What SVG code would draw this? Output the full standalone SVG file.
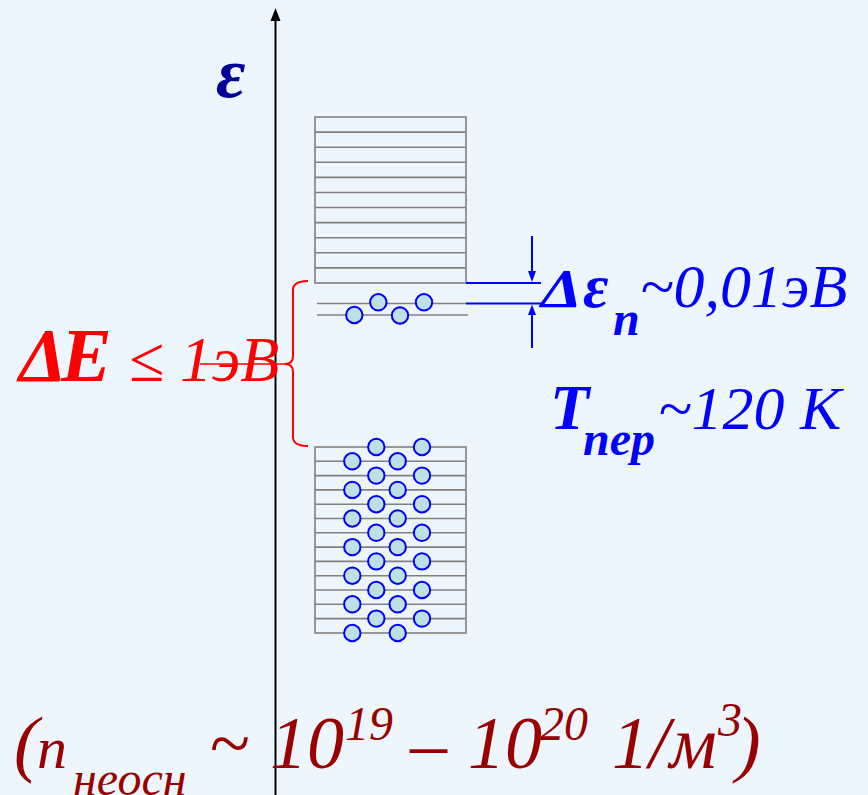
<svg xmlns="http://www.w3.org/2000/svg" width="868" height="795" viewBox="0 0 868 795">
<defs>
<style>
.band{fill:none;stroke:#808080;stroke-width:1.6}
.lvl{stroke:#808080;stroke-width:1.6}
.el{fill:#BDE0E3;stroke:#0000FF;stroke-width:2}
.bl{stroke:#0000FF;stroke-width:2;fill:none}
.t{font-family:"Liberation Serif","Times New Roman",serif;font-style:italic}
.b{font-weight:bold}
.blue{fill:#0000FF}
.red{fill:#FF0000}
.dred{fill:#990000}
</style>
</defs>
<rect x="0" y="0" width="868" height="795" fill="#EEF6FD"/>

<g id="axis">
<line x1="275.5" y1="20" x2="275.5" y2="795" stroke="#000" stroke-width="2"/>
<polygon points="275.5,8 270.5,21 280.5,21" fill="#000"/>
<text class="t b" x="216" y="97" font-size="72" fill="#000099">ε</text>
</g>

<g id="conduction-band">
<rect class="band" x="315" y="117" width="151" height="166"/>
<line class="lvl" x1="315" y1="132.1" x2="466" y2="132.1"/>
<line class="lvl" x1="315" y1="147.2" x2="466" y2="147.2"/>
<line class="lvl" x1="315" y1="162.3" x2="466" y2="162.3"/>
<line class="lvl" x1="315" y1="177.4" x2="466" y2="177.4"/>
<line class="lvl" x1="315" y1="192.5" x2="466" y2="192.5"/>
<line class="lvl" x1="315" y1="207.5" x2="466" y2="207.5"/>
<line class="lvl" x1="315" y1="222.6" x2="466" y2="222.6"/>
<line class="lvl" x1="315" y1="237.7" x2="466" y2="237.7"/>
<line class="lvl" x1="315" y1="252.8" x2="466" y2="252.8"/>
<line class="lvl" x1="315" y1="267.9" x2="466" y2="267.9"/>
</g>

<g id="donor-levels">
<line class="lvl" x1="317" y1="303.5" x2="467" y2="303.5"/>
<line class="lvl" x1="317" y1="315" x2="468" y2="315"/>
<circle class="el" cx="378.3" cy="302.3" r="8.2"/>
<circle class="el" cx="424" cy="302.3" r="8.2"/>
<circle class="el" cx="354.3" cy="315" r="8.2"/>
<circle class="el" cx="400" cy="315.5" r="8.2"/>
</g>

<g id="valence-band">
<rect class="band" x="315" y="447" width="151" height="186"/>
<line class="lvl" x1="315" y1="461.3" x2="466" y2="461.3"/>
<line class="lvl" x1="315" y1="475.6" x2="466" y2="475.6"/>
<line class="lvl" x1="315" y1="489.9" x2="466" y2="489.9"/>
<line class="lvl" x1="315" y1="504.2" x2="466" y2="504.2"/>
<line class="lvl" x1="315" y1="518.5" x2="466" y2="518.5"/>
<line class="lvl" x1="315" y1="532.8" x2="466" y2="532.8"/>
<line class="lvl" x1="315" y1="547.1" x2="466" y2="547.1"/>
<line class="lvl" x1="315" y1="561.4" x2="466" y2="561.4"/>
<line class="lvl" x1="315" y1="575.7" x2="466" y2="575.7"/>
<line class="lvl" x1="315" y1="590" x2="466" y2="590"/>
<line class="lvl" x1="315" y1="604.3" x2="466" y2="604.3"/>
<line class="lvl" x1="315" y1="618.6" x2="466" y2="618.6"/>
<g>
<circle class="el" cx="376.3" cy="447" r="8.2"/><circle class="el" cx="422" cy="447" r="8.2"/>
<circle class="el" cx="376.3" cy="475.6" r="8.2"/><circle class="el" cx="422" cy="475.6" r="8.2"/>
<circle class="el" cx="376.3" cy="504.2" r="8.2"/><circle class="el" cx="422" cy="504.2" r="8.2"/>
<circle class="el" cx="376.3" cy="532.8" r="8.2"/><circle class="el" cx="422" cy="532.8" r="8.2"/>
<circle class="el" cx="376.3" cy="561.4" r="8.2"/><circle class="el" cx="422" cy="561.4" r="8.2"/>
<circle class="el" cx="376.3" cy="590" r="8.2"/><circle class="el" cx="422" cy="590" r="8.2"/>
<circle class="el" cx="376.3" cy="618.6" r="8.2"/><circle class="el" cx="422" cy="618.6" r="8.2"/>
<circle class="el" cx="352.3" cy="461.3" r="8.2"/><circle class="el" cx="397.7" cy="461.3" r="8.2"/>
<circle class="el" cx="352.3" cy="489.9" r="8.2"/><circle class="el" cx="397.7" cy="489.9" r="8.2"/>
<circle class="el" cx="352.3" cy="518.5" r="8.2"/><circle class="el" cx="397.7" cy="518.5" r="8.2"/>
<circle class="el" cx="352.3" cy="547.1" r="8.2"/><circle class="el" cx="397.7" cy="547.1" r="8.2"/>
<circle class="el" cx="352.3" cy="575.7" r="8.2"/><circle class="el" cx="397.7" cy="575.7" r="8.2"/>
<circle class="el" cx="352.3" cy="604.3" r="8.2"/><circle class="el" cx="397.7" cy="604.3" r="8.2"/>
<circle class="el" cx="352.3" cy="633" r="8.2"/><circle class="el" cx="397.7" cy="633" r="8.2"/>
</g>
</g>

<g id="connectors">
<line class="bl" x1="466" y1="283" x2="541" y2="283"/>
<line class="bl" x1="466" y1="303.5" x2="541" y2="303.5"/>
<line class="bl" x1="532" y1="236" x2="532" y2="273"/>
<polygon points="532,282 528,271 536,271" fill="#0000FF"/>
<line class="bl" x1="532" y1="313" x2="532" y2="348"/>
<polygon points="532,304.5 528,315 536,315" fill="#0000FF"/>
<path d="M308,281 Q293,281 293,290 L293,356 Q293,364 285,364 Q293,364 293,372 L293,437 Q293,446 308,446" fill="none" stroke="#FF0000" stroke-width="2"/>
<line x1="200" y1="364" x2="290" y2="364" stroke="#FF0000" stroke-width="1.3"/>
</g>

<g id="gap-label">
<text class="t red" y="381"><tspan class="b" x="19" font-size="76">Δ</tspan><tspan class="b" x="61" font-size="76">E</tspan><tspan x="129" font-size="64" font-style="normal">≤</tspan><tspan x="180" font-size="64">1эВ</tspan></text>
</g>

<g id="donor-label">
<text class="t b blue" x="541" y="307" font-size="54" textLength="41" lengthAdjust="spacingAndGlyphs">Δ</text>
<text class="t blue" y="307"><tspan class="b" x="583" font-size="62">ε</tspan><tspan class="b" x="613" y="335" font-size="48">n</tspan><tspan x="640" y="307" font-size="62">~0,01эВ</tspan></text>
</g>

<g id="temp-label">
<text class="t blue" y="429"><tspan class="b" x="550" font-size="64">T</tspan><tspan class="b" x="583" y="455" font-size="48">пер</tspan><tspan x="658" y="429" font-size="62">~120 К</tspan></text>
</g>

<g id="concentration-label">
<text class="t dred" y="768"><tspan x="14" font-size="74">(</tspan><tspan x="37" font-size="60">n</tspan><tspan x="73" y="795" font-size="48">неосн</tspan><tspan x="210" y="768" font-size="74" font-style="normal">~</tspan><tspan x="270" font-size="74">10</tspan><tspan x="345" y="740" font-size="48">19</tspan><tspan x="410" y="768" font-size="74" font-style="normal">–</tspan><tspan x="468" font-size="74">10</tspan><tspan x="540" y="740" font-size="48">20</tspan><tspan x="612" y="768" font-size="74">1/м</tspan><tspan x="718" y="736" font-size="48">3</tspan><tspan x="736" y="768" font-size="74">)</tspan></text>
</g>
</svg>
